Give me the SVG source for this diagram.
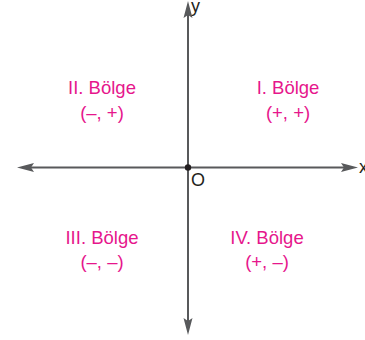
<svg xmlns="http://www.w3.org/2000/svg" width="365" height="340" viewBox="0 0 365 340">
<style>
.axis{stroke:#58595b;stroke-width:2;fill:none}
.head{fill:#58595b}
.lbl{font-family:"Liberation Sans",Arial,sans-serif;font-size:18.5px;fill:#e6168c;text-anchor:middle}
.ax{font-family:"Liberation Sans",Arial,sans-serif;font-size:18px;fill:#231f20}
</style>
<rect width="365" height="340" fill="#ffffff"/>
<g id="connectors">
<line class="axis" x1="30" y1="167.5" x2="346" y2="167.5"/>
<line class="axis" x1="188" y1="14" x2="188" y2="322"/>
<polygon class="head" points="17,167.5 34,163 31,167.5 34,172"/>
<polygon class="head" points="358,167.5 341,163 344,167.5 341,172"/>
<polygon class="head" points="188,1 183.5,18 188,15 192.5,18"/>
<polygon class="head" points="188,335 183.5,318 188,321 192.5,318"/>
</g>
<g id="origin">
<circle cx="188" cy="167.5" r="3.2" fill="#231f20"/>
<text class="ax" x="191" y="185.5">O</text>
</g>
<g id="axis-x"><text class="ax" x="359" y="173">x</text></g>
<g id="axis-y"><text class="ax" x="191" y="12">y</text></g>
<g id="q1">
<text class="lbl" x="288" y="94">I. Bölge</text>
<text class="lbl" x="288" y="119">(+, +)</text>
</g>
<g id="q2">
<text class="lbl" x="102" y="94">II. Bölge</text>
<text class="lbl" x="102" y="119">(–, +)</text>
</g>
<g id="q3">
<text class="lbl" x="102" y="244">III. Bölge</text>
<text class="lbl" x="102" y="268">(–, –)</text>
</g>
<g id="q4">
<text class="lbl" x="267" y="244">IV. Bölge</text>
<text class="lbl" x="267" y="268">(+, –)</text>
</g>
</svg>
